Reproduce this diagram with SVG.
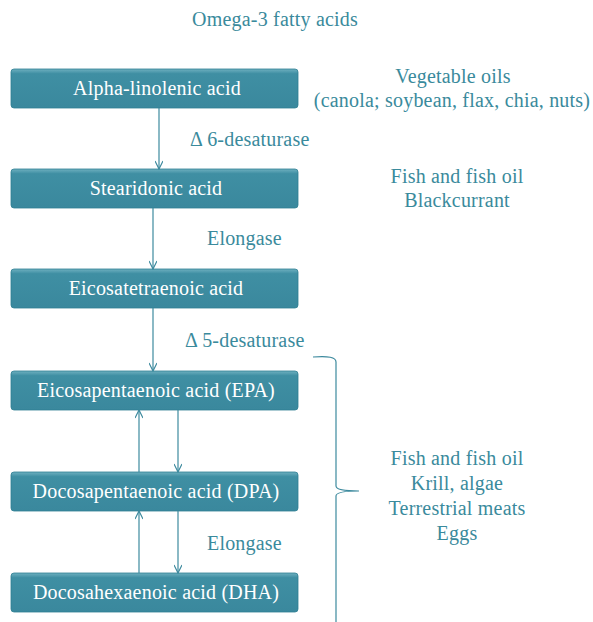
<svg xmlns="http://www.w3.org/2000/svg" width="593" height="622" viewBox="0 0 593 622">
<defs>
<linearGradient id="bg" x1="0" y1="0" x2="0" y2="1">
<stop offset="0" stop-color="#6fb0c0"/>
<stop offset="0.12" stop-color="#3f8fa3"/>
<stop offset="1" stop-color="#3a889d"/>
</linearGradient>
<marker id="ah" markerWidth="10" markerHeight="8" refX="9" refY="4" orient="auto" markerUnits="userSpaceOnUse">
<path d="M1,0 L9,4 L1,8" fill="none" stroke="#3d8a9e" stroke-width="1.2"/>
</marker>
</defs>
<style>
.box{fill:url(#bg);stroke:#2f7f93;stroke-width:0.8}
.bt{font-family:"Liberation Serif",serif;font-size:20px;letter-spacing:0.2px;fill:#ffffff;text-anchor:middle}
.lt{font-family:"Liberation Serif",serif;font-size:20px;letter-spacing:0.2px;fill:#3a8a9c}
.ct{text-anchor:middle}
.con{stroke:#3d8a9e;stroke-width:1.2;fill:none}
</style>
<rect width="593" height="622" fill="#ffffff"/>
<text class="lt ct" x="275" y="26">Omega-3 fatty acids</text>
<g id="n1"><rect class="box" x="11" y="69" width="287" height="39" rx="3"/><text class="bt" x="157" y="95">Alpha-linolenic acid</text></g>
<g id="n2"><rect class="box" x="11" y="169" width="287" height="39" rx="3"/><text class="bt" x="156" y="195">Stearidonic acid</text></g>
<g id="n3"><rect class="box" x="11" y="269" width="287" height="39" rx="3"/><text class="bt" x="156" y="295">Eicosatetraenoic acid</text></g>
<g id="n4"><rect class="box" x="11" y="371" width="287" height="39" rx="3"/><text class="bt" x="156" y="397">Eicosapentaenoic acid (EPA)</text></g>
<g id="n5"><rect class="box" x="11" y="472" width="287" height="39" rx="3"/><text class="bt" x="156" y="498">Docosapentaenoic acid (DPA)</text></g>
<g id="n6"><rect class="box" x="11" y="573" width="287" height="39" rx="3"/><text class="bt" x="156" y="599">Docosahexaenoic acid (DHA)</text></g>
<g id="connectors">
<line class="con" x1="159" y1="108" x2="159" y2="169" marker-end="url(#ah)"/>
<line class="con" x1="153" y1="208" x2="153" y2="269" marker-end="url(#ah)"/>
<line class="con" x1="153" y1="308" x2="153" y2="371" marker-end="url(#ah)"/>
<line class="con" x1="139" y1="472" x2="139" y2="410" marker-end="url(#ah)"/>
<line class="con" x1="178" y1="410" x2="178" y2="472" marker-end="url(#ah)"/>
<line class="con" x1="139" y1="573" x2="139" y2="511" marker-end="url(#ah)"/>
<line class="con" x1="178" y1="511" x2="178" y2="573" marker-end="url(#ah)"/>
<path class="con" d="M313,357 Q336,355 336,362 L336,486 Q336,491 359,491 Q336,491 336,496 L336,622"/>
</g>
<g id="labels">
<text class="lt" x="190" y="146">Δ 6-desaturase</text>
<text class="lt" x="207" y="245">Elongase</text>
<text class="lt" x="185" y="347">Δ 5-desaturase</text>
<text class="lt" x="207" y="550">Elongase</text>
<text class="lt ct" x="453" y="83">Vegetable oils</text>
<text class="lt ct" x="452" y="107">(canola; soybean, flax, chia, nuts)</text>
<text class="lt ct" x="457" y="183">Fish and fish oil</text>
<text class="lt ct" x="457" y="207">Blackcurrant</text>
<text class="lt ct" x="457" y="465">Fish and fish oil</text>
<text class="lt ct" x="457" y="490">Krill, algae</text>
<text class="lt ct" x="457" y="515">Terrestrial meats</text>
<text class="lt ct" x="457" y="540">Eggs</text>
</g>
</svg>
